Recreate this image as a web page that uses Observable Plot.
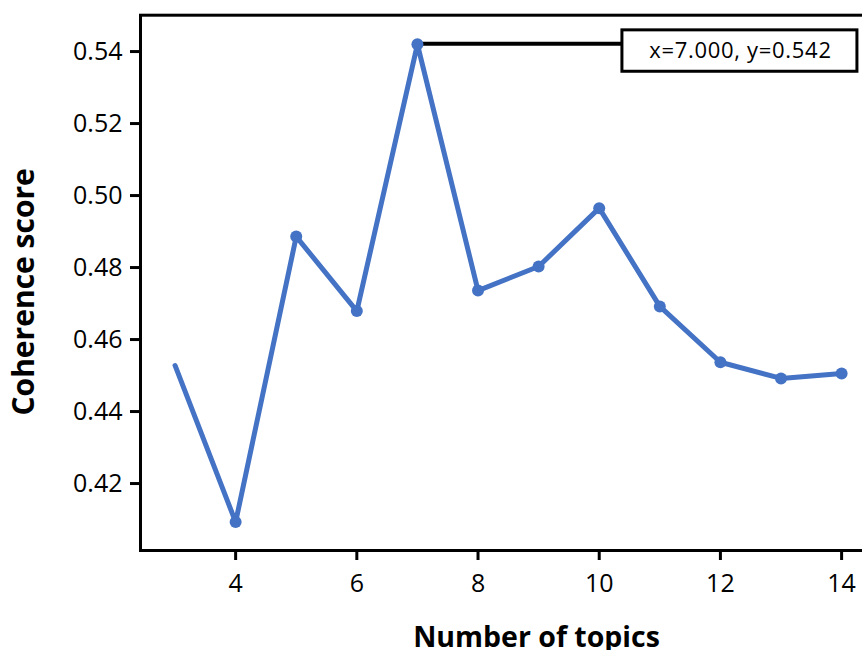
<!DOCTYPE html>
<html><head><meta charset="utf-8">
<script src="https://cdn.jsdelivr.net/npm/d3@7"></script>
<script src="https://cdn.jsdelivr.net/npm/@observablehq/plot@0.6"></script>
<style>
html,body{margin:0;padding:0;background:#fff;overflow:hidden}
#wrap{width:862px;height:650px;overflow:hidden;position:relative}
</style></head><body><div id="wrap"></div>
<script>
const topics = [3, 4, 5, 6, 7, 8, 9, 10, 11, 12, 13, 14];
const scores = [0.4528, 0.4093, 0.4886, 0.4679, 0.542, 0.4736, 0.4803, 0.4965, 0.4692, 0.4537, 0.4492, 0.4506];
const xTicks = [4, 6, 8, 10, 12, 14];
const yTicks = [0.42, 0.44, 0.46, 0.48, 0.50, 0.52, 0.54];
const xLabel = "Number of topics";
const yLabel = "Coherence score";

const data = topics.map((t, i) => ({topic: t, score: scores[i]}));
const peak = data.reduce((a, b) => (b.score > a.score ? b : a));
const calloutText = `x=${peak.topic.toFixed(3)}, y=${peak.score.toFixed(3)}`;
const blue = "#4472C4";

function callout(index, scales) {
  const sx = scales.x, sy = scales.y;
  const px = sx(peak.topic), py = sy(peak.score);
  const bx = px + 205, bw = 235, by = py - 14, bh = 41.4;
  const g = d3.create("svg:g");
  g.append("line").attr("x1", px).attr("x2", bx).attr("y1", py).attr("y2", py)
    .attr("stroke", "#000").attr("stroke-width", 4);
  g.append("rect").attr("x", bx).attr("y", by).attr("width", bw).attr("height", bh)
    .attr("fill", "#fff").attr("stroke", "#000").attr("stroke-width", 3);
  g.append("text").attr("x", bx + bw / 2 + 1).attr("y", by + bh / 2).attr("dy", "0.35em")
    .attr("text-anchor", "middle").attr("font-size", 22).attr("letter-spacing", "0.7px")
    .attr("fill", "#000").text(calloutText);
  return g.node();
}

const chart = Plot.plot({
  width: 932,
  height: 650,
  marginLeft: 140,
  marginRight: 0,
  marginTop: 14.7,
  marginBottom: 100,
  style: {fontFamily: "'Open Sans', sans-serif", fontSize: "25px", color: "#000", background: "#fff", maxWidth: "none"},
  x: {domain: [2.43, 15.5]},
  y: {domain: [0.4014, 0.5501]},
  marks: [
    Plot.axisX(xTicks, {tickSize: 10, tickPadding: 14, strokeWidth: 3, label: null, tickFormat: d => String(d)}),
    Plot.axisY(yTicks, {tickSize: 10, tickPadding: 8, strokeWidth: 3, label: null, tickFormat: d3.format(".2f")}),
    Plot.frame({strokeWidth: 3}),
    callout,
    Plot.line(data, {x: "topic", y: "score", stroke: blue, strokeWidth: 5}),
    Plot.dot(data, {filter: (d, i) => i > 0, x: "topic", y: "score", r: 6, fill: blue}),
    Plot.text([xLabel], {text: d => d, frameAnchor: "bottom", textAnchor: "middle", lineAnchor: "bottom", dy: 96, fontWeight: "bold", fontSize: 28.5}),
    Plot.text([yLabel], {text: d => d, frameAnchor: "left", textAnchor: "middle", rotate: -90, lineAnchor: "bottom", dx: -107, dy: 9, fontWeight: "bold", fontSize: 30})
  ]
});
document.getElementById("wrap").appendChild(chart);
</script>
</body></html>
